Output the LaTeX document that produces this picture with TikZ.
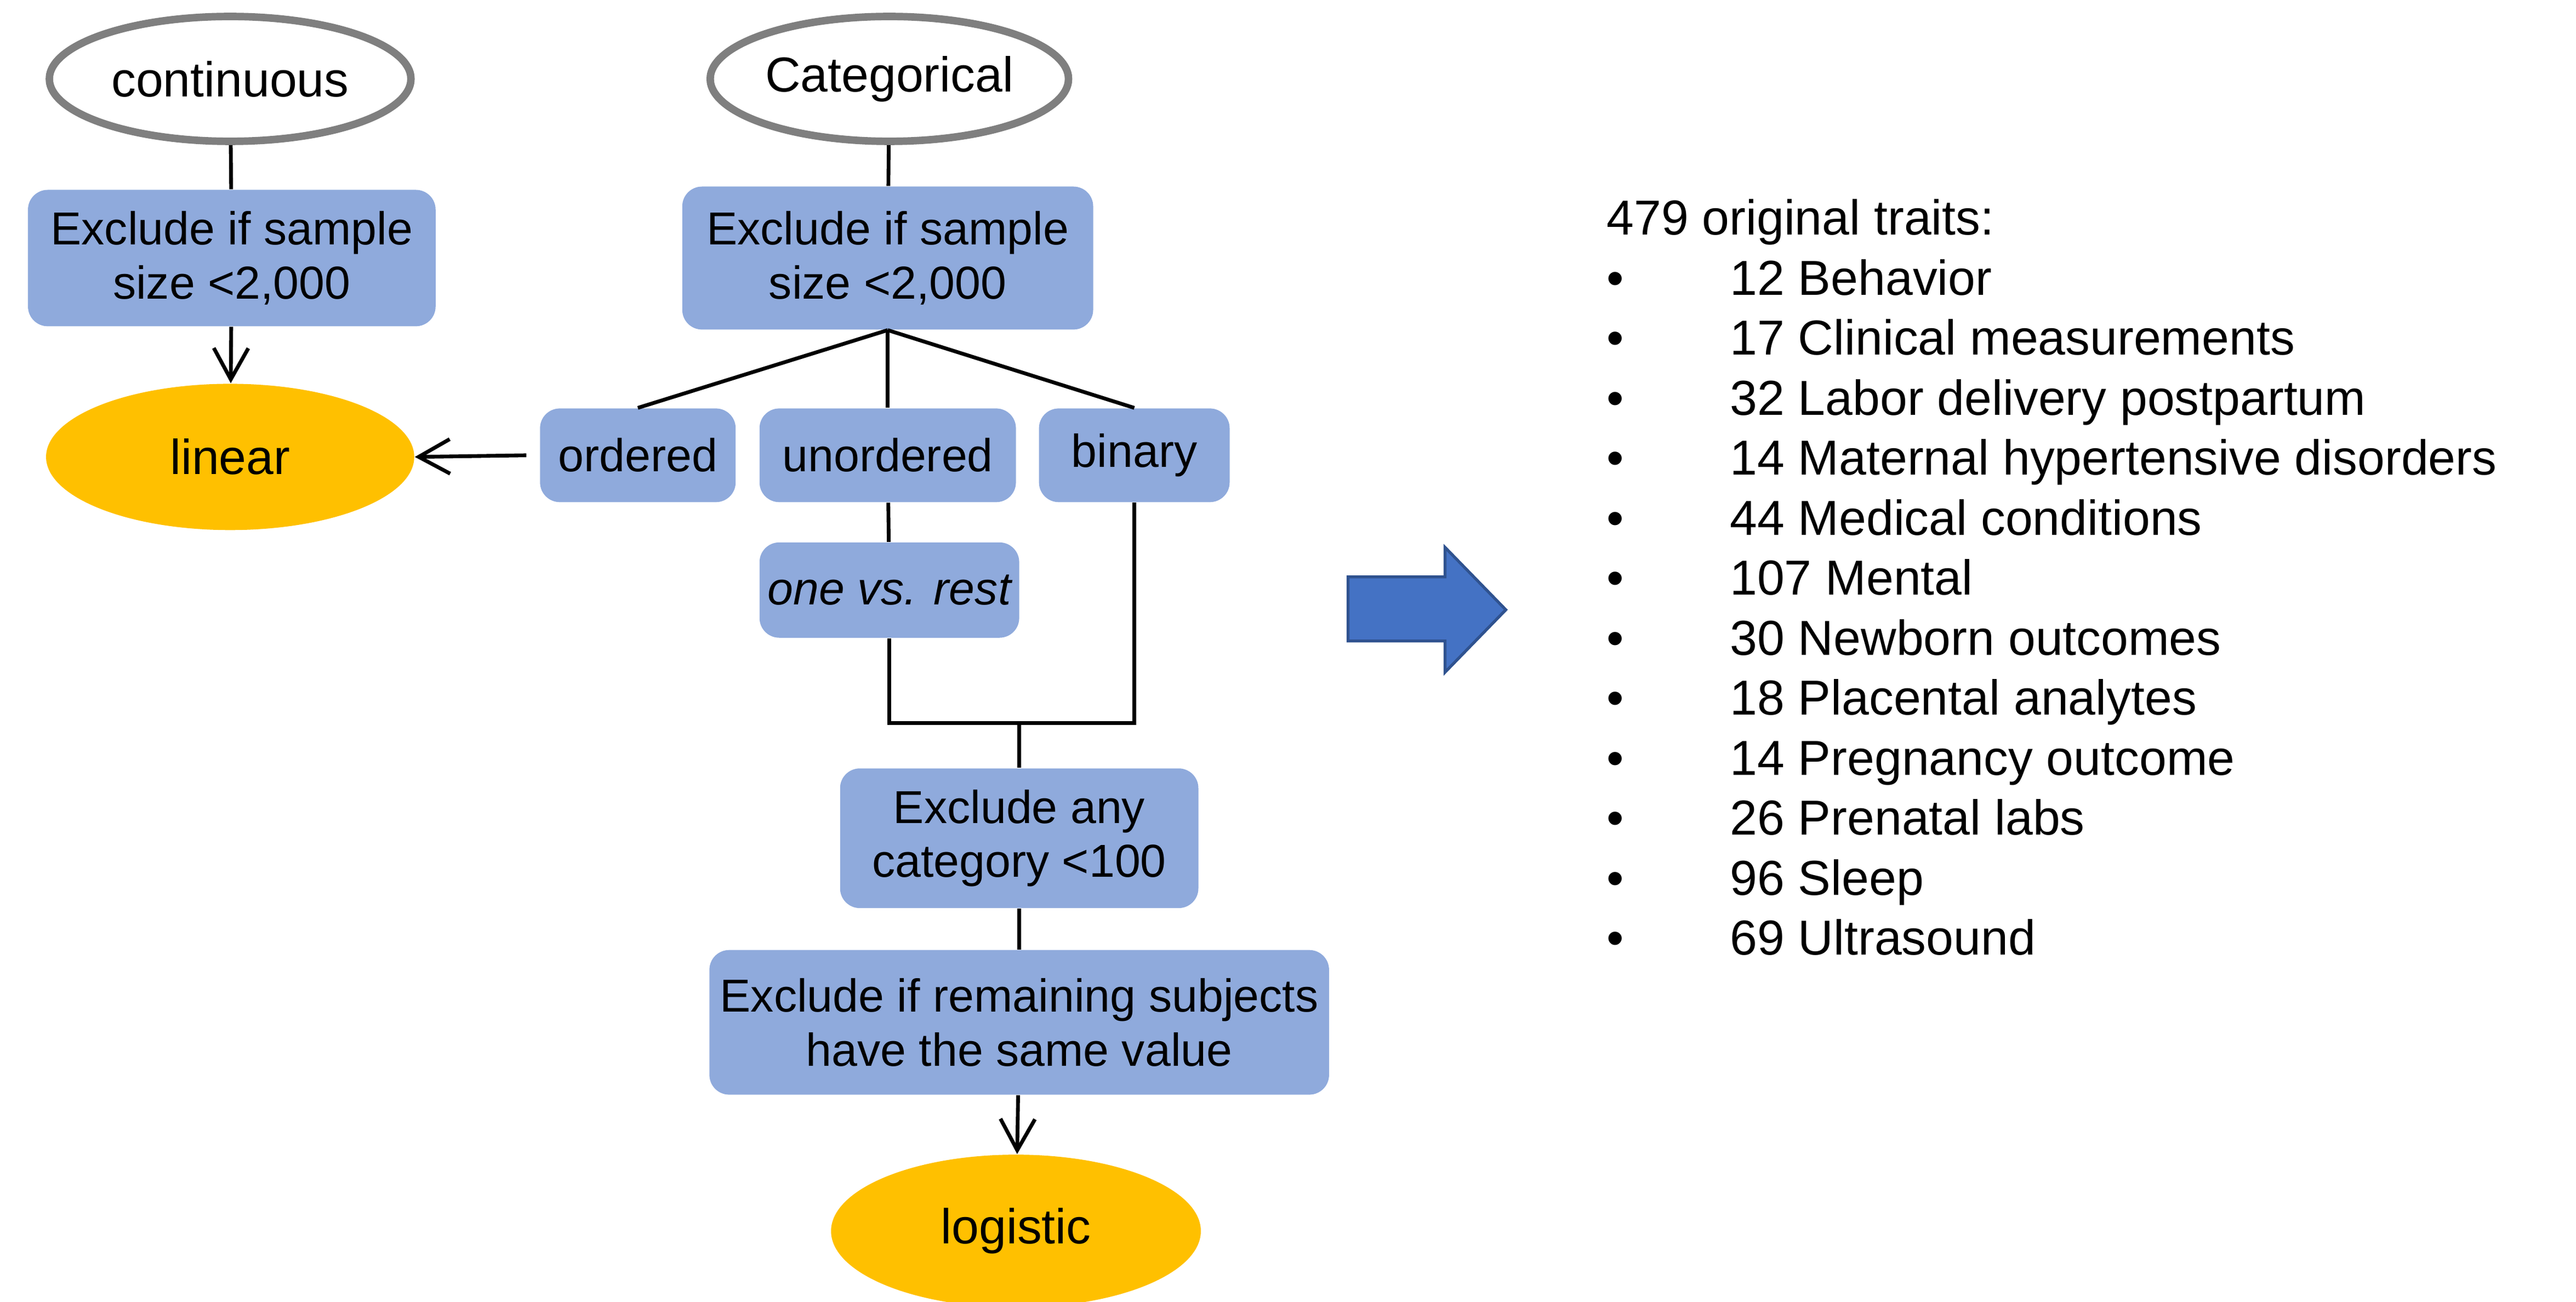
\documentclass[tikz,border=0pt]{standalone}
\usepackage{fontspec}
\setmainfont{Liberation Sans}
\usetikzlibrary{shapes.geometric,arrows.meta}

\definecolor{boxblue}{HTML}{8FAADC}
\definecolor{gold}{HTML}{FFC000}
\definecolor{rimgray}{HTML}{7F7F7F}
\definecolor{arrowblue}{HTML}{4472C4}
\definecolor{arrowrim}{HTML}{2F528F}

\newcommand{\traitline}[1]{\makebox[1.5cm][l]{\textbullet}#1}

\begin{document}
\begin{tikzpicture}[x=0.02cm,y=-0.02cm]

\tikzstyle{oval} = [ellipse,draw=rimgray,line width=2.6pt,fill=white,inner sep=0,font=\fontsize{17}{20}\selectfont]
\tikzstyle{model} = [ellipse,fill=gold,inner sep=0,font=\fontsize{17}{20}\selectfont]
\tikzstyle{box} = [rectangle,rounded corners=0.24cm,fill=boxblue,align=center,inner sep=0,font=\fontsize{16}{18.7}\selectfont]
\tikzstyle{edge} = [line width=1.3pt]
\tikzstyle{flowedge} = [edge,-{Straight Barb[length=0.38cm,width=0.42cm]}]

\useasboundingbox (0,0) rectangle (1567,792);

\node[oval,minimum width=4.4cm,minimum height=1.52cm](cont) at (140,48){continuous};
\node[oval,minimum width=4.36cm,minimum height=1.52cm](cat) at (541,48){Categorical};

\node[box,minimum width=4.96cm,minimum height=1.66cm](ex1) at (141,157){Exclude if sample\\size <2,000};
\node[box,minimum width=5.0cm,minimum height=1.74cm](ex2) at (540,157){Exclude if sample\\size <2,000};

\node[model,minimum width=4.48cm,minimum height=1.78cm](lin) at (140,278){linear};

\node[box,minimum width=2.38cm,minimum height=1.14cm](ord) at (388,277){ordered};
\node[box,minimum width=3.12cm,minimum height=1.14cm](unord) at (540,277){unordered};
\node[box,minimum width=2.32cm,minimum height=1.14cm](bin) at (690,277){binary};
\node[box,minimum width=3.16cm,minimum height=1.16cm](ovr) at (541,359){\itshape one vs. rest};

\coordinate (mrg) at (620,440);

\node[box,minimum width=4.36cm,minimum height=1.7cm](ex3) at (620,510){Exclude any\\category <100};
\node[box,minimum width=7.54cm,minimum height=1.76cm](ex4) at (620,622){Exclude if remaining subjects\\have the same value};
\node[model,minimum width=4.5cm,minimum height=1.86cm](logi) at (618,749){logistic};

\draw[edge] (cont) -- (ex1);
\draw[edge] (cat) -- (ex2);
\draw[flowedge] (ex1) -- (lin);

\draw[edge] (ex2.south) -- (ord.north);
\draw[edge] (ex2.south) -- (unord.north);
\draw[edge] (ex2.south) -- (bin.north);
\draw[flowedge] ([xshift=-0.16cm]ord.west) -- (lin.east);

\draw[edge] (unord) -- (ovr);
\draw[edge] (ovr.south) |- (mrg) -| (bin.south);
\draw[edge] (mrg) -- (ex3.north);
\draw[edge] (ex3) -- (ex4);
\draw[flowedge] (ex4) -- (logi);

\filldraw[fill=arrowblue,draw=arrowrim,line width=1pt]
  (820,351) -- (879,351) -- (879,333) -- (916,371) -- (879,409) -- (879,390) -- (820,390) -- cycle;

\node[anchor=north west,align=left,inner sep=0,font=\fontsize{17}{20.78}\selectfont](traits) at (977,121){479 original traits:\\
\traitline{12 Behavior}\\
\traitline{17 Clinical measurements}\\
\traitline{32 Labor delivery postpartum}\\
\traitline{14 Maternal hypertensive disorders}\\
\traitline{44 Medical conditions}\\
\traitline{107 Mental}\\
\traitline{30 Newborn outcomes}\\
\traitline{18 Placental analytes}\\
\traitline{14 Pregnancy outcome}\\
\traitline{26 Prenatal labs}\\
\traitline{96 Sleep}\\
\traitline{69 Ultrasound}};

\end{tikzpicture}
\end{document}
